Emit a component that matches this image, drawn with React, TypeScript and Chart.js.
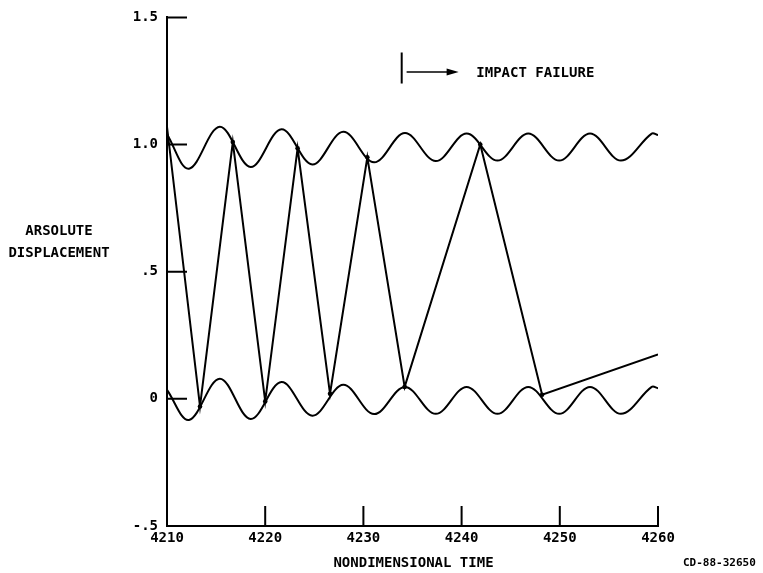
import React, { useEffect, useRef } from "react";
import { Chart, registerables } from "chart.js";

Chart.register(...registerables);

// Boundary waves: peaks and troughs (plus the two ends)
const waveTime = [
  4210, 4212.24, 4215.38, 4218.52, 4221.66, 4224.8, 4227.95, 4231.09, 4234.23,
  4237.37, 4240.51, 4243.65, 4246.79, 4249.94, 4253.08, 4256.22, 4259.36, 4260,
];
const upperWave = [
  1.04, 0.905, 1.07, 0.912, 1.06, 0.922, 1.05, 0.93, 1.045,
  0.935, 1.043, 0.937, 1.043, 0.937, 1.043, 0.937, 1.043, 1.037,
];
const lowerWave = [
  0.035, -0.083, 0.079, -0.079, 0.066, -0.066, 0.055, -0.06, 0.047,
  -0.059, 0.047, -0.059, 0.047, -0.059, 0.047, -0.059, 0.047, 0.042,
];

// Bouncing (impact) trajectory
const impactTime = [4210, 4213.36, 4216.7, 4220.0, 4223.3, 4226.6, 4230.4, 4234.2, 4241.9, 4248.2, 4260];
const impactValue = [1.07, -0.03, 1.01, -0.01, 0.985, 0.02, 0.95, 0.047, 1.0, 0.016, 0.175];
const impactDot = [0, 2.3, 2.3, 2.3, 2.3, 2.3, 2.3, 2.3, 2.3, 2.3, 0];

const xTickValues = [4210, 4220, 4230, 4240, 4250, 4260];
const yTickValues = [-0.5, 0, 0.5, 1.0, 1.5];
const yTickLabels = ["-.5", "0", ".5", "1.0", "1.5"];

// Annotation (data units)
const failureTime = 4233.9;
const failureLineTop = 1.362;
const failureLineBottom = 1.24;
const failureArrowLevel = 1.285;
const failureArrowStart = 4234.4;
const failureArrowEnd = 4239.7;
const failureTextTime = 4241.5;
const failureText = "IMPACT FAILURE";

const yTitleLines = ["ARSOLUTE", "DISPLACEMENT"];
const xTitle = "NONDIMENSIONAL TIME";
const figureCode = "CD-88-32650";

const FONT = "'DejaVu Sans Mono', monospace";

const decorPlugin = {
  id: "decor",
  afterDraw(chart: any) {
    const { ctx, chartArea } = chart;
    const xs = chart.scales.x;
    const ys = chart.scales.y;
    ctx.save();
    ctx.strokeStyle = "#000";
    ctx.fillStyle = "#000";
    ctx.lineWidth = 2;
    // inward tick marks
    ctx.beginPath();
    yTickValues.forEach((v) => {
      const py = ys.getPixelForValue(v);
      ctx.moveTo(chartArea.left, py);
      ctx.lineTo(chartArea.left + 20, py);
    });
    xTickValues.forEach((v) => {
      const px = xs.getPixelForValue(v);
      ctx.moveTo(px, chartArea.bottom);
      ctx.lineTo(px, chartArea.bottom - 20);
    });
    ctx.stroke();

    // impact failure annotation
    const fx = xs.getPixelForValue(failureTime);
    ctx.beginPath();
    ctx.moveTo(fx, ys.getPixelForValue(failureLineTop));
    ctx.lineTo(fx, ys.getPixelForValue(failureLineBottom));
    ctx.stroke();
    const ay = ys.getPixelForValue(failureArrowLevel);
    const ax0 = xs.getPixelForValue(failureArrowStart);
    const ax1 = xs.getPixelForValue(failureArrowEnd);
    ctx.lineWidth = 1.5;
    ctx.beginPath();
    ctx.moveTo(ax0, ay);
    ctx.lineTo(ax1 - 8, ay);
    ctx.stroke();
    ctx.beginPath();
    ctx.moveTo(ax1, ay);
    ctx.lineTo(ax1 - 12, ay - 3.5);
    ctx.lineTo(ax1 - 12, ay + 3.5);
    ctx.closePath();
    ctx.fill();

    ctx.font = "bold 14px " + FONT;
    ctx.textBaseline = "middle";
    ctx.textAlign = "left";
    ctx.fillText(failureText, xs.getPixelForValue(failureTextTime), ay + 1);

    // y title (horizontal, left of axis)
    ctx.textAlign = "center";
    const midY = ys.getPixelForValue(0.5);
    ctx.fillText(yTitleLines[0], 59, midY - 40);
    ctx.fillText(yTitleLines[1], 59, midY - 18);

    // x title
    ctx.fillText(xTitle, (chartArea.left + chartArea.right) / 2 + 1, chartArea.bottom + 37);

    // figure code
    ctx.font = "bold 11px " + FONT;
    ctx.textAlign = "left";
    ctx.fillText(figureCode, chartArea.right + 25, chartArea.bottom + 37);
    ctx.restore();
  },
};

export default function App() {
  const canvasRef = useRef<HTMLCanvasElement | null>(null);

  useEffect(() => {
    const canvas = canvasRef.current;
    if (!canvas) return;
    const toPts = (t: number[], v: number[]) => t.map((x, i) => ({ x, y: v[i] }));
    const chart = new Chart(canvas, {
      type: "line",
      data: {
        datasets: [
          {
            data: toPts(waveTime, upperWave),
            borderColor: "#000",
            borderWidth: 2,
            pointRadius: 0,
            tension: 0.36,
            fill: false,
          },
          {
            data: toPts(waveTime, lowerWave),
            borderColor: "#000",
            borderWidth: 2,
            pointRadius: 0,
            tension: 0.36,
            fill: false,
          },
          {
            data: toPts(impactTime, impactValue),
            borderColor: "#000",
            backgroundColor: "#000",
            borderWidth: 2,
            pointRadius: impactDot,
            pointBorderWidth: 0,
            tension: 0,
            fill: false,
          },
        ],
      },
      options: {
        animation: false,
        responsive: false,
        events: [],
        layout: { padding: { left: 0, top: 17, right: 105, bottom: 0 } },
        plugins: { legend: { display: false }, tooltip: { enabled: false }, title: { display: false } },
        scales: {
          x: {
            type: "linear",
            min: 4210,
            max: 4260,
            grid: { display: true, drawOnChartArea: false, drawTicks: false },
            border: { display: true, color: "#000", width: 2 },
            ticks: {
              stepSize: 10,
              autoSkip: false,
              maxRotation: 0,
              padding: 4,
              color: "#000",
              font: { family: FONT, size: 14, weight: "bold" },
              callback: (v: any) => String(v),
            },
            afterFit: (s: any) => {
              s.height = 47;
            },
          },
          y: {
            type: "linear",
            min: -0.5,
            max: 1.5,
            grid: { display: true, drawOnChartArea: false, drawTicks: false },
            border: { display: true, color: "#000", width: 2 },
            ticks: {
              stepSize: 0.5,
              autoSkip: false,
              padding: 9,
              color: "#000",
              font: { family: FONT, size: 14, weight: "bold" },
              callback: (v: any) => {
                const i = yTickValues.findIndex((t) => Math.abs(t - Number(v)) < 1e-6);
                return i >= 0 ? yTickLabels[i] : "";
              },
            },
            afterFit: (s: any) => {
              s.width = 167;
            },
          },
        },
      },
      plugins: [decorPlugin],
    });
    return () => chart.destroy();
  }, []);

  return (
    <div style={{ position: "absolute", left: 0, top: 0, width: 763, height: 573, background: "#fff" }}>
      <canvas ref={canvasRef} width={763} height={573} style={{ display: "block" }} />
    </div>
  );
}
